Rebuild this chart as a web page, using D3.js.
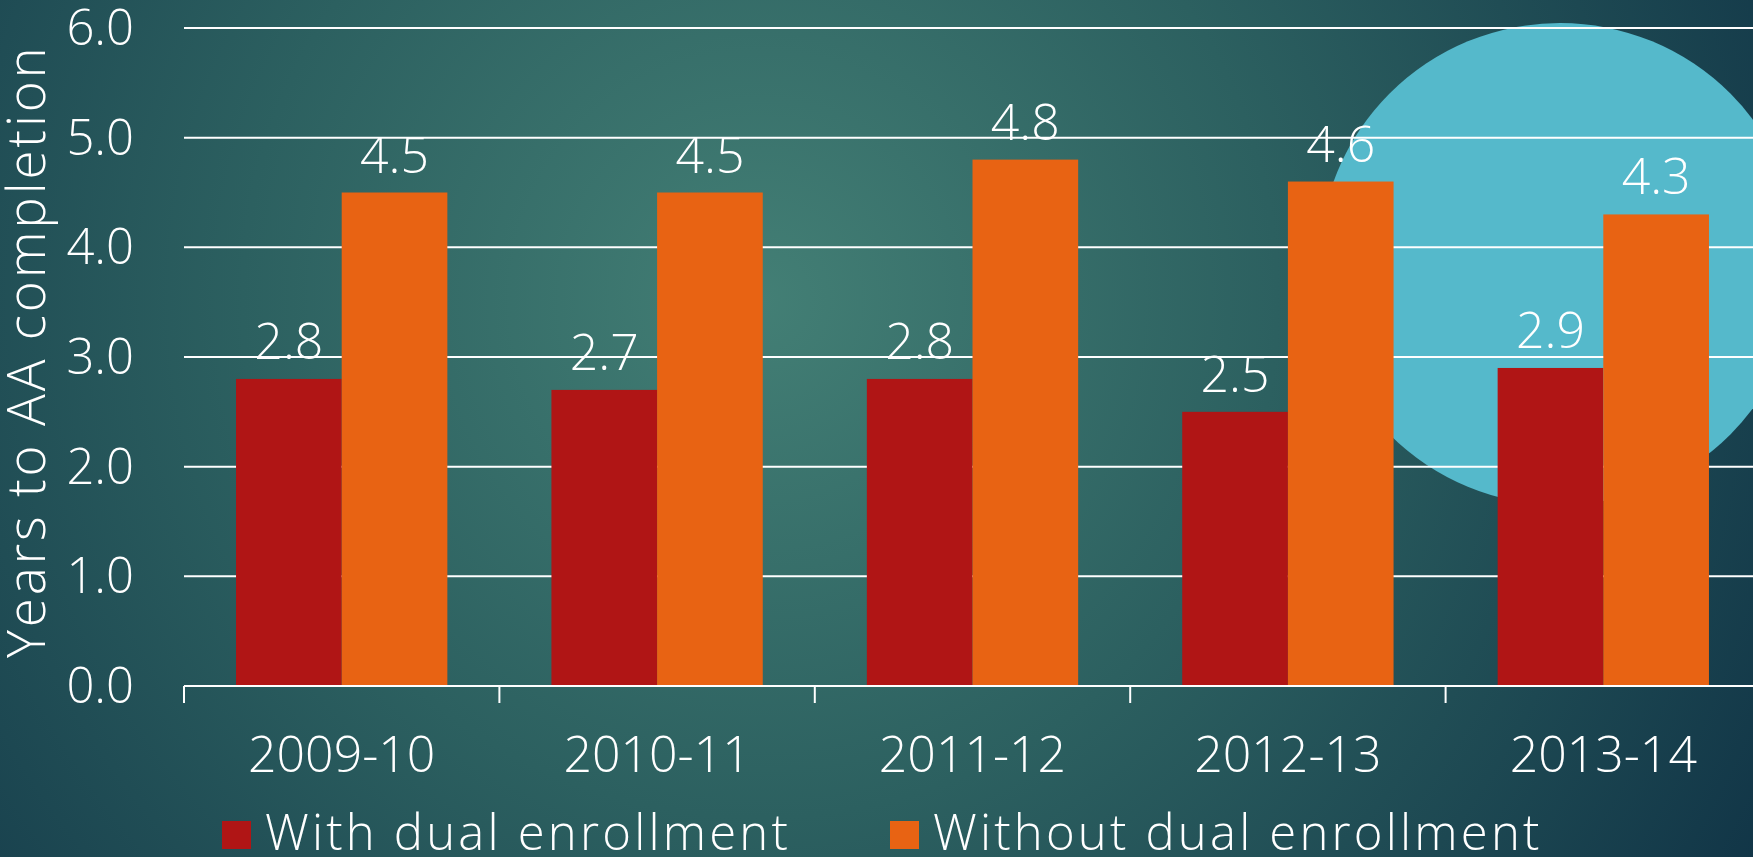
<!DOCTYPE html>
<meta charset="utf-8">
<style>
body { margin: 0; overflow: hidden; }
text { font-family: "Open Sans", "Noto Sans", sans-serif; font-weight: 300; fill: #fff; }
</style>
<script src="https://cdn.jsdelivr.net/npm/d3@7"></script>
<body>
<script>

var years = ["2009-10", "2010-11", "2011-12", "2012-13", "2013-14"];
var withDual = [2.8, 2.7, 2.8, 2.5, 2.9];
var withoutDual = [4.5, 4.5, 4.8, 4.6, 4.3];
var seriesNames = ["With dual enrollment", "Without dual enrollment"];
var yTicks = [0, 1, 2, 3, 4, 5, 6];

var width = 1753,
    height = 857;

var svg = d3.select("body")
  .append("svg")
  .attr("width", width)
  .attr("height", height);

// slide background
var defs = svg.append("defs");
var grad = defs.append("radialGradient")
  .attr("id", "bg")
  .attr("gradientUnits", "userSpaceOnUse")
  .attr("cx", 760).attr("cy", 300).attr("r", 1150);
grad.append("stop").attr("offset", 0).attr("stop-color", "#437f75");
grad.append("stop").attr("offset", 0.45).attr("stop-color", "#2c6060");
grad.append("stop").attr("offset", 1).attr("stop-color", "#113547");

svg.append("rect")
  .attr("width", width)
  .attr("height", height)
  .attr("fill", "url(#bg)");

svg.append("circle")
  .attr("cx", 1560).attr("cy", 264).attr("r", 241)
  .attr("fill", "#55b9cb");

// plot area runs a little past the right edge of the slide
var plotLeft = 184, plotRight = 1761, plotTop = 28, plotBottom = 686;

var x = d3.scaleBand()
  .domain(years)
  .range([plotLeft, plotRight])
  .paddingInner(0.33)
  .paddingOuter(0.165);

var x1 = d3.scaleBand()
  .domain([0, 1])
  .range([0, x.bandwidth()]);

var y = d3.scaleLinear()
  .domain([0, 6])
  .range([plotBottom, plotTop]);

var color = ["#b01515", "#e86313"];

// gridlines
svg.append("g")
  .selectAll("line")
  .data(yTicks.slice(1))
  .enter().append("line")
    .attr("x1", plotLeft).attr("x2", plotRight)
    .attr("y1", function (d) { return y(d); })
    .attr("y2", function (d) { return y(d); })
    .attr("stroke", "#fff")
    .attr("stroke-width", 2);

// y tick labels
svg.append("g")
  .selectAll("text")
  .data(yTicks)
  .enter().append("text")
    .attr("x", 134)
    .attr("y", function (d) { return y(d) + 17; })
    .attr("text-anchor", "end")
    .attr("font-size", 49)
    .text(function (d) { return d.toFixed(1); });

// bars
var groups = svg.append("g")
  .selectAll("g")
  .data(years)
  .enter().append("g")
    .attr("transform", function (d) { return "translate(" + x(d) + ",0)"; });

var bars = groups.selectAll("g")
  .data(function (d, i) { return [withDual[i], withoutDual[i]]; })
  .enter().append("g");

bars.append("rect")
  .attr("x", function (d, j) { return x1(j); })
  .attr("y", function (d) { return y(d); })
  .attr("width", x1.bandwidth())
  .attr("height", function (d) { return plotBottom - y(d); })
  .attr("fill", function (d, j) { return color[j]; });

bars.append("text")
  .attr("x", function (d, j) { return x1(j) + x1.bandwidth() / 2; })
  .attr("y", function (d) { return y(d) - 20; })
  .attr("text-anchor", "middle")
  .attr("font-size", 50)
  .text(function (d) { return d.toFixed(1); });

// x axis
var xAxis = svg.append("g");
xAxis.append("line")
  .attr("x1", plotLeft).attr("x2", plotRight)
  .attr("y1", plotBottom).attr("y2", plotBottom)
  .attr("stroke", "#fff").attr("stroke-width", 2);

xAxis.selectAll(".tick")
  .data(years)
  .enter().append("line")
    .attr("x1", function (d) { return x(d) - x.step() * 0.165; })
    .attr("x2", function (d) { return x(d) - x.step() * 0.165; })
    .attr("y1", plotBottom).attr("y2", plotBottom + 17)
    .attr("stroke", "#fff").attr("stroke-width", 2);

xAxis.selectAll("text")
  .data(years)
  .enter().append("text")
    .attr("x", function (d) { return x(d) + x.bandwidth() / 2; })
    .attr("y", 772)
    .attr("text-anchor", "middle")
    .attr("font-size", 50)
    .text(function (d) { return d; });

// axis title
svg.append("text")
  .attr("transform", "translate(45,658) rotate(-90)")
  .attr("font-size", 53)
  .attr("letter-spacing", 2.8)
  .text("Years to AA completion");

// legend
var legendX = [222, 890];
var legend = svg.append("g")
  .selectAll("g")
  .data(seriesNames)
  .enter().append("g")
    .attr("transform", function (d, i) { return "translate(" + legendX[i] + ",821)"; });

legend.append("rect")
  .attr("width", 29).attr("height", 28)
  .attr("fill", function (d, i) { return color[i]; });

legend.append("text")
  .attr("x", 43)
  .attr("y", 29)
  .attr("font-size", 49)
  .attr("letter-spacing", 3.2)
  .text(function (d) { return d; });

</script>
</body>
